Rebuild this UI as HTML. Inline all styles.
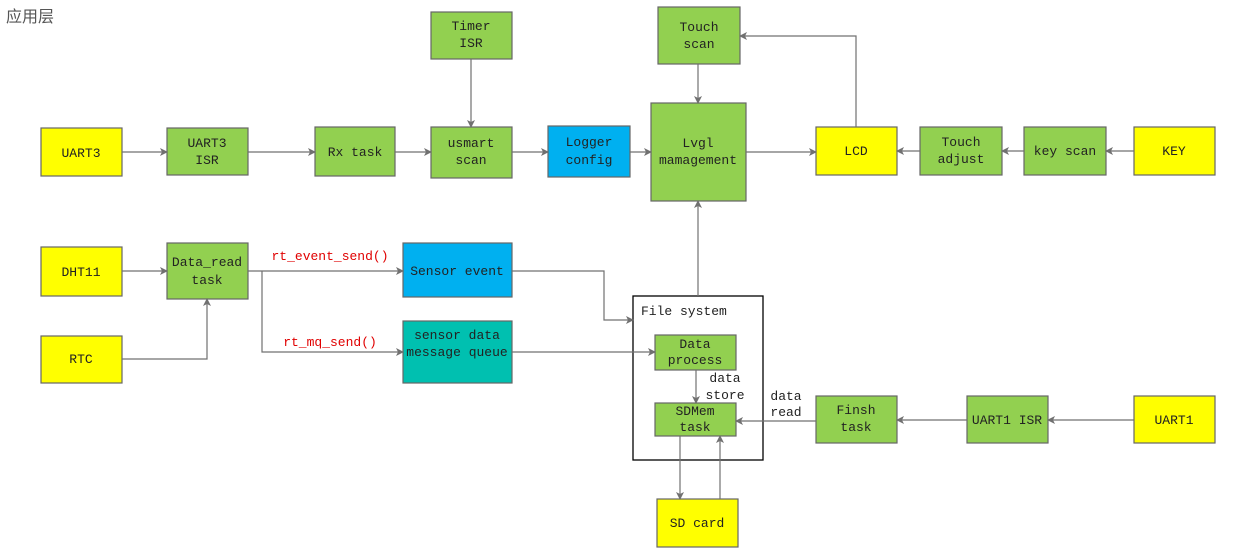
<!DOCTYPE html>
<html><head><meta charset="utf-8"><style>
html,body{margin:0;padding:0;background:#fff;width:1253px;height:551px;overflow:hidden}
text{font-family:"Liberation Mono","Noto Serif CJK SC",monospace;font-size:13px;fill:#222}
.b{stroke:#666;stroke-width:1.2}
.g{fill:#92d050}.y{fill:#ffff00}.c{fill:#00b0f0}.t{fill:#00c0b0}
.l{stroke:#707070;stroke-width:1.2;fill:none;marker-end:url(#a)}
</style></head><body>
<svg width="1253" height="551" xmlns="http://www.w3.org/2000/svg">
<defs><marker id="a" markerWidth="8" markerHeight="8" refX="7" refY="4" orient="auto" markerUnits="userSpaceOnUse"><path d="M0,0 L8,4 L0,8 L2,4 z" fill="#707070"/></marker></defs>
<text x="6" y="22" style="font-family:'Noto Sans CJK SC',sans-serif;font-size:16px;fill:#555">应用层</text>
<rect x="633" y="296" width="130" height="164" fill="#fff" stroke="#000" stroke-width="1.3"/>
<text x="641" y="315">File system</text>
<g class="b">
<rect class="y b" x="41" y="128" width="81" height="48"/>
<rect class="g b" x="167" y="128" width="81" height="47"/>
<rect class="g b" x="315" y="127" width="80" height="49"/>
<rect class="g b" x="431" y="127" width="81" height="51"/>
<rect class="c b" x="548" y="126" width="82" height="51"/>
<rect class="g b" x="431" y="12" width="81" height="47"/>
<rect class="g b" x="658" y="7" width="82" height="57"/>
<rect class="g b" x="651" y="103" width="95" height="98"/>
<rect class="y b" x="816" y="127" width="81" height="48"/>
<rect class="g b" x="920" y="127" width="82" height="48"/>
<rect class="g b" x="1024" y="127" width="82" height="48"/>
<rect class="y b" x="1134" y="127" width="81" height="48"/>
<rect class="y b" x="41" y="247" width="81" height="49"/>
<rect class="g b" x="167" y="243" width="81" height="56"/>
<rect class="c b" x="403" y="243" width="109" height="54"/>
<rect class="t b" x="403" y="321" width="109" height="62"/>
<rect class="y b" x="41" y="336" width="81" height="47"/>
<rect class="g b" x="655" y="335" width="81" height="35"/>
<rect class="g b" x="655" y="403" width="81" height="33"/>
<rect class="y b" x="657" y="499" width="81" height="48"/>
<rect class="g b" x="816" y="396" width="81" height="47"/>
<rect class="g b" x="967" y="396" width="81" height="47"/>
<rect class="y b" x="1134" y="396" width="81" height="47"/>
</g>
<g text-anchor="middle">
<text x="81" y="157">UART3</text>
<text x="207" y="147">UART3</text><text x="207" y="164">ISR</text>
<text x="355" y="156">Rx task</text>
<text x="471" y="147">usmart</text><text x="471" y="164">scan</text>
<text x="589" y="146">Logger</text><text x="589" y="164">config</text>
<text x="471" y="30">Timer</text><text x="471" y="47">ISR</text>
<text x="699" y="31">Touch</text><text x="699" y="48">scan</text>
<text x="698" y="147">Lvgl</text><text x="698" y="164">mamagement</text>
<text x="856" y="155">LCD</text>
<text x="961" y="146">Touch</text><text x="961" y="163">adjust</text>
<text x="1065" y="155">key scan</text>
<text x="1174" y="155">KEY</text>
<text x="81" y="276">DHT11</text>
<text x="207" y="266">Data_read</text><text x="207" y="284">task</text>
<text x="457" y="275">Sensor event</text>
<text x="457" y="339">sensor data</text><text x="457" y="356">message queue</text>
<text x="81" y="363">RTC</text>
<text x="695" y="348">Data</text><text x="695" y="364">process</text>
<text x="695" y="415">SDMem</text><text x="695" y="431">task</text>
<text x="697" y="527">SD card</text>
<text x="856" y="414">Finsh</text><text x="856" y="431">task</text>
<text x="1007" y="424">UART1 ISR</text>
<text x="1174" y="424">UART1</text>
<text x="725" y="382">data</text><text x="725" y="399">store</text>
<text x="786" y="400">data</text><text x="786" y="416">read</text>
<text x="330" y="260" style="fill:#e00000">rt_event_send()</text>
<text x="330" y="346" style="fill:#e00000">rt_mq_send()</text>
</g>
<path class="l" d="M122,152H167"/>
<path class="l" d="M248,152H315"/>
<path class="l" d="M395,152H431"/>
<path class="l" d="M512,152H548"/>
<path class="l" d="M630,152H651"/>
<path class="l" d="M471,59V127"/>
<path class="l" d="M698,64V103"/>
<path class="l" d="M746,152H816"/>
<path class="l" d="M856,127V36H740"/>
<path class="l" d="M920,151H897"/>
<path class="l" d="M1024,151H1002"/>
<path class="l" d="M1134,151H1106"/>
<path class="l" d="M122,271H167"/>
<path class="l" d="M122,359H207V299"/>
<path class="l" d="M248,271H403"/>
<path class="l" d="M262,271V352H403"/>
<path class="l" d="M512,271H604V320H633"/>
<path class="l" d="M512,352H655"/>
<path class="l" d="M698,296V201"/>
<path class="l" d="M696,370V403"/>
<path class="l" d="M816,421H736"/>
<path class="l" d="M967,420H897"/>
<path class="l" d="M1134,420H1048"/>
<path class="l" d="M680,436V499"/>
<path class="l" d="M720,499V436"/>
</svg>
</body></html>
